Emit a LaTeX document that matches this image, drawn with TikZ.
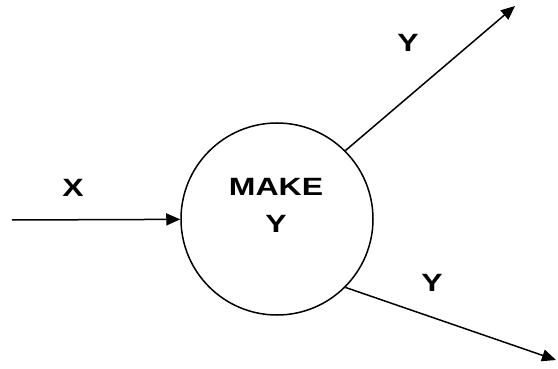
\documentclass[tikz,border=0pt]{standalone}
\usepackage{fontspec}
\setmainfont{Liberation Sans}
\newfontfamily\widefont[FakeStretch=1.28]{Liberation Sans}
\usetikzlibrary{arrows.meta}
\begin{document}
\begin{tikzpicture}[
	x=1pt, y=-1pt,
	process/.style={ circle, draw, line width=1.5pt, minimum size=192pt, inner sep=0pt },
	flow/.style={ line width=1.5pt, -{Triangle[length=14pt,width=12pt]} },
	tag/.style={ font=\widefont\fontsize{25}{37}\selectfont\bfseries, inner sep=0pt, align=center }
]
\useasboundingbox (0,0) rectangle (558,369);

\node at (277,219) (make) [process] {};
\node at (276,205) (maketext) [tag] {MAKE\\Y};

\coordinate (src) at (12,220);
\coordinate (topend) at (515,6);
\coordinate (botend) at (556,360);

\draw [flow] (src) to (make);
\draw [flow] (make.45) to (topend);
\draw [flow] (make.-45) to (botend);

\node at (73,188) (xlbl) [tag] {X};
\node at (408,43) (ytop) [tag] {Y};
\node at (432,283) (ybot) [tag] {Y};

\end{tikzpicture}
\end{document}
